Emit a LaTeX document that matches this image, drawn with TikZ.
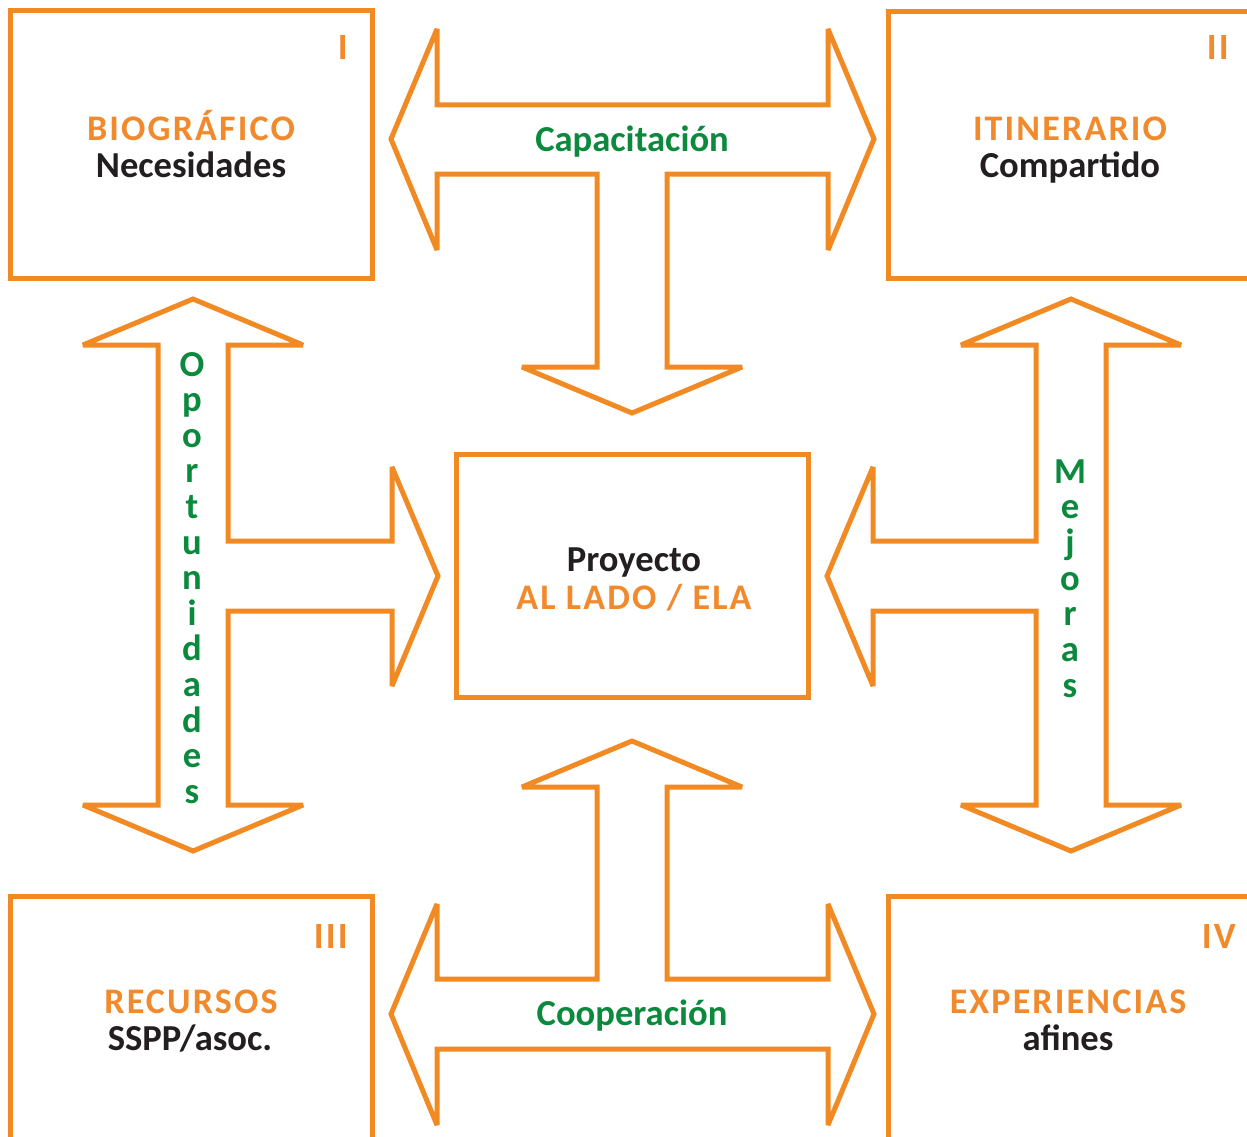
\documentclass[tikz,border=0pt]{standalone}
\usepackage{fontspec}
\setmainfont{Carlito}
\newfontfamily\spacedfont[LetterSpace=6]{Carlito}
\definecolor{lineor}{HTML}{F28A24}
\definecolor{txtor}{HTML}{F18A2C}
\definecolor{txtgr}{HTML}{0B8A3E}
\definecolor{txtbk}{HTML}{231F20}
\begin{document}
\begin{tikzpicture}[x=1pt,y=-1pt]
\tikzset{
  outl/.style={draw=lineor, line width=5pt, line join=miter, miter limit=3, fill=none},
  orangetxt/.style={text=txtor, font=\spacedfont\bfseries\fontsize{36}{40}\selectfont, inner sep=0pt, anchor=base},
  blacktxt/.style={text=txtbk, font=\bfseries\fontsize{36.6}{40}\selectfont, inner sep=0pt, anchor=base},
  greentxt/.style={text=txtgr, font=\bfseries\fontsize{36.6}{40}\selectfont, inner sep=0pt, anchor=base},
  numtxt/.style={text=txtor, font=\spacedfont\bfseries\fontsize{37}{40}\selectfont, inner sep=0pt, anchor=base east},
}
\useasboundingbox (0,0) rectangle (1247,1137);
\clip (0,0) rectangle (1247,1137);
\fill[white] (0,0) rectangle (1247,1137);

% boxes
\draw[outl] (10,11) rectangle (372,278);
\draw[outl] (888,12) rectangle (1270,278);
\draw[outl] (10,896) rectangle (372,1160);
\draw[outl] (888,896) rectangle (1270,1160);
\draw[outl] (456,454) rectangle (808,697);

% top T arrow
\draw[outl] (391,139) -- (437,29) -- (437,105) -- (828,105) -- (828,29) -- (874,139)
  -- (828,250) -- (828,174) -- (667,174) -- (667,367) -- (742,367) -- (632,413)
  -- (522,367) -- (597,367) -- (597,174) -- (437,174) -- (437,250) -- cycle;

% bottom T arrow
\draw[outl] (391,1014) -- (437,904) -- (437,979) -- (597,979) -- (597,787) -- (522,787)
  -- (632,741) -- (742,787) -- (667,787) -- (667,979) -- (828,979) -- (828,904)
  -- (874,1014) -- (828,1125) -- (828,1049) -- (437,1049) -- (437,1125) -- cycle;

% left arrow
\draw[outl] (193,299) -- (303,345) -- (228,345) -- (228,541) -- (392,541) -- (392,467)
  -- (438,576) -- (392,686) -- (392,611) -- (228,611) -- (228,805) -- (303,805)
  -- (193,851) -- (83,805) -- (158,805) -- (158,345) -- (83,345) -- cycle;

% right arrow
\draw[outl] (1071,299) -- (1181,345) -- (1106,345) -- (1106,805) -- (1181,805)
  -- (1071,851) -- (961,805) -- (1036,805) -- (1036,611) -- (873,611) -- (873,686)
  -- (827,576) -- (873,467) -- (873,541) -- (1036,541) -- (1036,345) -- (961,345) -- cycle;

% box texts
\node[orangetxt] (bio) at (191,140) {BIOGRÁFICO};
\node[blacktxt] (nec) at (191,177) {Necesidades};
\node[orangetxt] (iti) at (1070,140) {ITINERARIO};
\node[blacktxt] (com) at (1070,177) {Compartido};
\node[orangetxt] (rec) at (191,1013) {RECURSOS};
\node[blacktxt] (ssp) at (190,1050) {SSPP/asoc.};
\node[orangetxt] (exp) at (1068,1013) {EXPERIENCIAS};
\node[blacktxt] (afi) at (1068,1050) {afines};
\node[blacktxt] (pro) at (634,571) {Proyecto};
\node[orangetxt] (ala) at (634,609) {AL LADO / ELA};

% numerals
\node[numtxt] (n1) at (348,60) {I};
\node[numtxt] (n2) at (1229,60) {II};
\node[numtxt] (n3) at (348,948) {III};
\node[numtxt] (n4) at (1236,948) {IV};

% arrow labels
\node[greentxt] (cap) at (632,151) {Capacitación};
\node[greentxt] (coo) at (632,1025) {Cooperación};
\foreach \ch [count=\i] in {O,p,o,r,t,u,n,i,d,a,d,e,s}
  \node[greentxt] (op\i) at (192,{376+35.6*(\i-1)}) {\ch};
\foreach \ch [count=\i] in {M,e,j,o,r,a,s}
  \node[greentxt] (me\i) at (1070,{483+35.7*(\i-1)}) {\ch};
\end{tikzpicture}
\end{document}
